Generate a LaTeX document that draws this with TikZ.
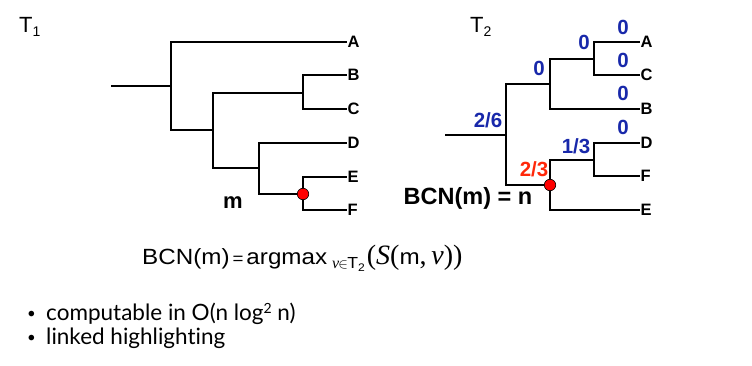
\documentclass[tikz,border=0pt]{standalone}
\usepackage{fontspec}
\setmainfont{Liberation Sans}
\newfontfamily\tnrfont{Liberation Serif}
\newfontfamily\widesans[FakeStretch=1.1]{Liberation Sans}
\newfontfamily\bulfont[Ligatures=NoCommon]{Lato}
\definecolor{scoreblue}{RGB}{24,40,170}
\definecolor{scorered}{RGB}{255,40,10}
\begin{document}
\begin{tikzpicture}[x=1pt,y=-1pt,
  br/.style={line width=1.2pt, line cap=rect},
  stem/.style={line width=1.7pt},
  leaflab/.style={anchor=west, inner sep=1.5pt, font=\fontsize{16.5}{16.5}\selectfont\bfseries},
  score/.style={font=\fontsize{20.5}{20.5}\selectfont\bfseries, text=scoreblue, inner sep=0pt},
  redscore/.style={score, text=scorered},
  reddot/.style={circle, fill=red, draw=black, line width=0.6pt, minimum size=11.5pt, inner sep=0pt},
  title/.style={font=\fontsize{22}{22}\selectfont, inner sep=0pt},
  bul/.style={anchor=base west, inner sep=0pt, font=\fontsize{22.5}{22.5}\selectfont\bulfont}]
\useasboundingbox (0,0) rectangle (752,366);

% ---------------- T1 ----------------
\node[title, anchor=west] (t1) at (19,27) {T\raisebox{-4.5pt}{\fontsize{14}{14}\selectfont 1}};
\coordinate (r1) at (111,86);
\coordinate (a1) at (171,86);
\coordinate (a2) at (213,130);
\coordinate (a3) at (303,93);
\coordinate (a4) at (259,168);
\coordinate (a5) at (303,194);
\coordinate (lA) at (346,42);
\coordinate (lB) at (346,75);
\coordinate (lC) at (346,109);
\coordinate (lD) at (346,143);
\coordinate (lE) at (346,177);
\coordinate (lF) at (346,210);
\draw[stem] (r1) -- (a1);
\draw[br] (a1) |- (lA);
\draw[br] (a1) |- (a2);
\draw[br] (a2) |- (a3);
\draw[br] (a2) |- (a4);
\draw[br] (a3) |- (lB);
\draw[br] (a3) |- (lC);
\draw[br] (a4) |- (lD);
\draw[br] (a4) |- (a5);
\draw[br] (a5) |- (lE);
\draw[br] (a5) |- (lF);
\node[reddot] (m1) at (a5) {};
\node[leaflab] (nA1) at (lA) {A};
\node[leaflab] (nB1) at (lB) {B};
\node[leaflab] (nC1) at (lC) {C};
\node[leaflab] (nD1) at (lD) {D};
\node[leaflab] (nE1) at (lE) {E};
\node[leaflab] (nF1) at (lF) {F};
\node[font=\fontsize{22}{22}\selectfont\bfseries, inner sep=0pt] (mlab) at (233,203) {m};

% ---------------- T2 ----------------
\node[title, anchor=west] (t2) at (470,27) {T\raisebox{-4.5pt}{\fontsize{14}{14}\selectfont 2}};
\coordinate (r2) at (446,135);
\coordinate (b1) at (506,135);
\coordinate (b2) at (550,84);
\coordinate (b3) at (550,185);
\coordinate (b4) at (594,59);
\coordinate (b5) at (594,160);
\coordinate (kA) at (639,42);
\coordinate (kC) at (639,75);
\coordinate (kB) at (639,109);
\coordinate (kD) at (639,143);
\coordinate (kF) at (639,176);
\coordinate (kE) at (639,210);
\draw[br] (r2) -- (b1);
\draw[br] (b1) |- (b2);
\draw[br] (b1) |- (b3);
\draw[br] (b2) |- (b4);
\draw[br] (b2) |- (kB);
\draw[br] (b4) |- (kA);
\draw[br] (b4) |- (kC);
\draw[br] (b3) |- (b5);
\draw[br] (b3) |- (kE);
\draw[br] (b5) |- (kD);
\draw[br] (b5) |- (kF);
\node[reddot] (n2) at (b3) {};
\node[leaflab] (nA2) at (kA) {A};
\node[leaflab] (nC2) at (kC) {C};
\node[leaflab] (nB2) at (kB) {B};
\node[leaflab] (nD2) at (kD) {D};
\node[leaflab] (nF2) at (kF) {F};
\node[leaflab] (nE2) at (kE) {E};

\node[score] (sA) at (623,27) {0};
\node[score] (sC) at (623,60) {0};
\node[score] (sB) at (623,93) {0};
\node[score] (sD) at (623,127) {0};
\node[score] (s4) at (584,42) {0};
\node[score] (s2) at (539,68) {0};
\node[score] (s1) at (488,120) {2/6};
\node[score] (s5) at (576,146) {1/3};
\node[redscore] (s3) at (534,169) {2/3};
\node[font=\fontsize{23.5}{23.5}\selectfont\bfseries, inner sep=0pt] (bcn) at (468,198) {BCN(m) = n};

% ---------------- formula ----------------
\node[anchor=base west, inner sep=0pt, font=\fontsize{22}{22}\selectfont\widesans] (form) at (142,264)
  {BCN(m)\kern3pt{\fontsize{17}{17}\selectfont=}\kern3pt argmax\kern5pt\raisebox{-4pt}{\fontsize{16}{16}\selectfont{\tnrfont\itshape v}\kern-1pt{\fontsize{15}{15}\selectfont$\in$}\kern-0.5pt T\raisebox{-3pt}{\fontsize{11}{11}\selectfont 2}}\kern2pt{\fontsize{28}{28}\selectfont\tnrfont(\textit{S}(}m{\fontsize{28}{28}\selectfont\tnrfont,\,\textit{v}))}};

% ---------------- bullets ----------------
\node[bul, font=\fontsize{15}{15}\selectfont\bulfont] (bu1) at (27,318) {\textbullet};
\node[bul] (tx1) at (46,320) {computable in O(n log\raisebox{7pt}{\fontsize{14}{14}\selectfont 2} n)};
\node[bul, font=\fontsize{15}{15}\selectfont\bulfont] (bu2) at (27,342) {\textbullet};
\node[bul] (tx2) at (46,344) {linked highlighting};
\end{tikzpicture}
\end{document}
